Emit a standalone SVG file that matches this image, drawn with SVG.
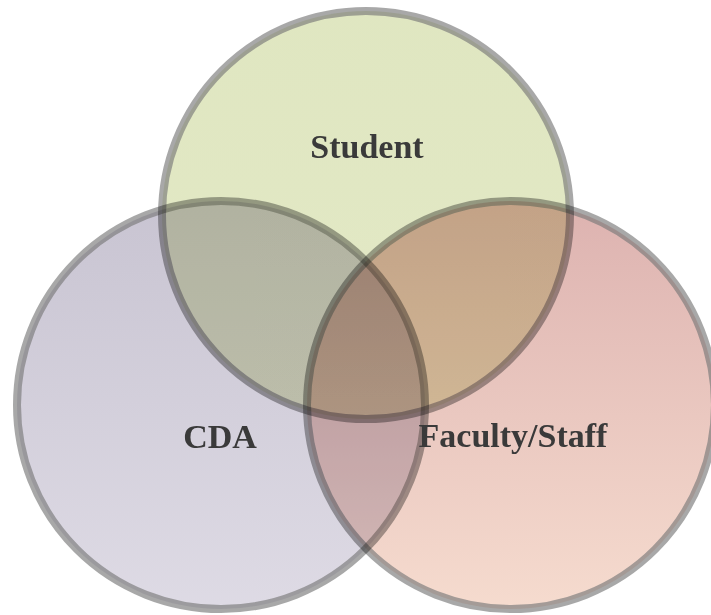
<svg xmlns="http://www.w3.org/2000/svg" width="711" height="615" viewBox="0 0 711 615">
<style>
.c{mix-blend-mode:multiply;stroke:#7a7a7a;stroke-opacity:0.65;stroke-width:8;fill-opacity:0.85}
.t{font-family:"Liberation Serif","Times New Roman",serif;font-weight:bold;font-size:34px;fill:#3a3a3a;text-anchor:middle}
</style>
<defs>
<linearGradient id="gS" x1="0" y1="0" x2="0" y2="1"><stop offset="0" stop-color="#dae2b6"/><stop offset="1" stop-color="#dee5bc"/></linearGradient>
<linearGradient id="gC" x1="0" y1="0" x2="0" y2="1"><stop offset="0" stop-color="#bfbaca"/><stop offset="1" stop-color="#d8d4e0"/></linearGradient>
<linearGradient id="gF" x1="0" y1="0" x2="0" y2="1"><stop offset="0" stop-color="#d7a5a2"/><stop offset="1" stop-color="#f4d5c6"/></linearGradient>
</defs>
<rect width="711" height="615" fill="#ffffff"/>
<g id="student"><circle class="c" cx="366" cy="215" r="204" fill="url(#gS)"/></g>
<g id="cda"><circle class="c" cx="221" cy="405" r="204" fill="url(#gC)"/></g>
<g id="faculty"><circle class="c" cx="511" cy="405" r="204" fill="url(#gF)"/></g>
<g id="connectors"></g>
<g id="labels">
<text class="t" x="367" y="158">Student</text>
<text class="t" x="220" y="448">CDA</text>
<text class="t" x="513" y="447">Faculty/Staff</text>
</g>
</svg>
